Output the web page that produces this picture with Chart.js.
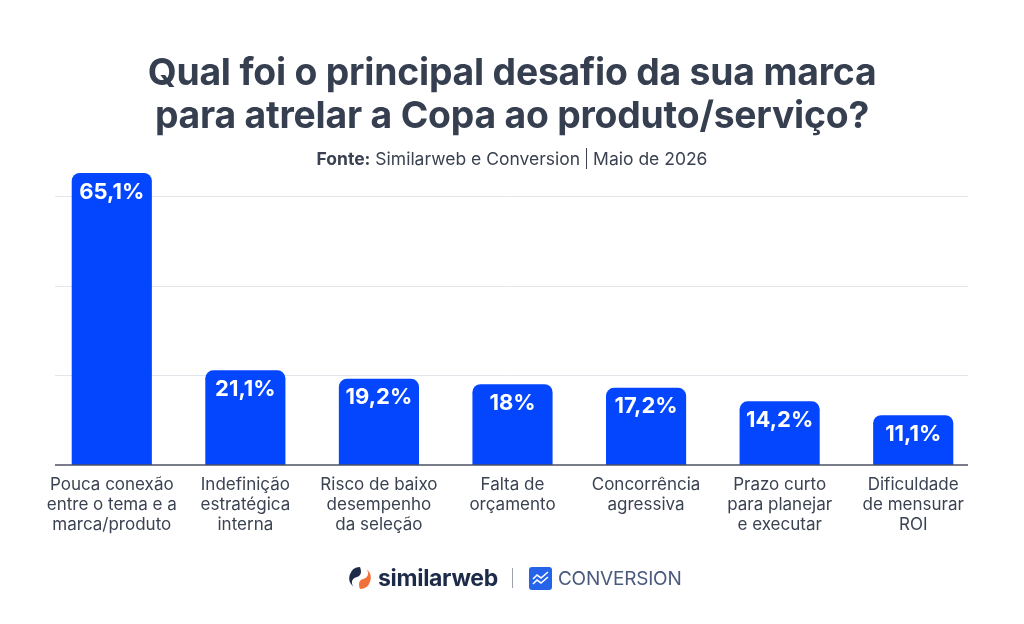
<!DOCTYPE html>
<html>
<head>
<meta charset="utf-8">
<script src="https://cdn.jsdelivr.net/npm/chart.js@4/dist/chart.umd.min.js"></script>
<style>
  html, body { margin: 0; padding: 0; background: #ffffff; }
  body { width: 1024px; height: 624px; position: relative; overflow: hidden; font-family: Inter, "Noto Sans", sans-serif; }
  #wrap { position: absolute; left: 0; top: 0; width: 1024px; height: 624px; }
  #title { position: absolute; left: 0; width: 1024px; top: 50px; text-align: center; color: #363f50; font-weight: 700; font-size: 37.3px; line-height: 43px; letter-spacing: -0.2px; }
  #sub { position: absolute; left: 0; width: 1024px; top: 148px; text-align: center; color: #3a4150; font-size: 17.5px; line-height: 20px; }
  #sub b { font-weight: 700; }
  #sub .bar { display: inline-block; width: 1px; height: 21px; background: #3a4150; vertical-align: -4px; margin: 0 6px; }
  #logos { position: absolute; top: 564px; left: 348px; height: 28px; display: flex; align-items: center; }
  .sw { font-weight: 700; font-size: 23px; color: #1d2b49; letter-spacing: -0.3px; margin-left: 6px; }
  .div { width: 1px; height: 20px; background: #9aa1ad; margin: 0 16px 0 14px; }
  .cv { font-size: 19px; color: #4a5a7c; margin-left: 6px; letter-spacing: -0.2px; }
</style>
</head>
<body>
<div id="wrap"><canvas id="c" width="1024" height="624"></canvas></div>
<div id="title">Qual foi o principal desafio da sua marca<br>para atrelar a Copa ao produto/serviço?</div>
<div id="sub"><b>Fonte:</b> Similarweb e Conversion<span class="bar"></span>Maio de 2026</div>
<div id="logos">
  <svg width="24" height="24" viewBox="0 0 24 24">
    <path d="M12 1 A11 11 0 0 0 6 21 C2 17 4 12 9 11 C13 10 14 6 12 1 Z" fill="#1d2b49"/>
    <path d="M12 23 A11 11 0 0 0 18 3 C22 7 20 12 15 13 C11 14 10 18 12 23 Z" fill="#f2713a"/>
  </svg>
  <span class="sw">similarweb</span>
  <span class="div"></span>
  <svg width="23" height="23" viewBox="0 0 23 23">
    <rect x="0" y="0" width="23" height="23" rx="3" fill="#2563eb"/>
    <path d="M4 12 L8 8 L12 11 L19 5" stroke="#fff" stroke-width="1.6" fill="none"/>
    <path d="M4 17 L8 13 L12 16 L19 10" stroke="#fff" stroke-width="1.6" fill="none"/>
  </svg>
  <span class="cv">CONVERSION</span>
</div>
<script>
const categories = [
  ["Pouca conexão", "entre o tema e a", "marca/produto"],
  ["Indefinição", "estratégica", "interna"],
  ["Risco de baixo", "desempenho", "da seleção"],
  ["Falta de", "orçamento"],
  ["Concorrência", "agressiva"],
  ["Prazo curto", "para planejar", "e executar"],
  ["Dificuldade", "de mensurar", "ROI"]
];
const values = [65.1, 21.1, 19.2, 18, 17.2, 14.2, 11.1];
const valueLabels = ["65,1%", "21,1%", "19,2%", "18%", "17,2%", "14,2%", "11,1%"];
const gridValues = [20, 40, 60];

const gridLines = {
  id: 'gridLines',
  beforeDatasetsDraw(chart) {
    const ctx = chart.ctx;
    const a = chart.chartArea;
    const y = chart.scales.y;
    const x0 = a.left + 10, x1 = a.right - 12;
    ctx.save();
    ctx.strokeStyle = '#e3e5ea';
    ctx.lineWidth = 1;
    gridValues.forEach(v => {
      const py = Math.round(y.getPixelForValue(v)) + 0.5;
      ctx.beginPath(); ctx.moveTo(x0, py); ctx.lineTo(x1, py); ctx.stroke();
    });
    ctx.restore();
  },
  afterDatasetsDraw(chart) {
    const ctx = chart.ctx;
    const a = chart.chartArea;
    const py = chart.scales.y.getPixelForValue(0);
    ctx.save();
    ctx.strokeStyle = '#4b5262';
    ctx.lineWidth = 1.5;
    ctx.beginPath(); ctx.moveTo(a.left + 10, py); ctx.lineTo(a.right - 12, py); ctx.stroke();
    ctx.restore();
  }
};

const barLabels = {
  id: 'barLabels',
  afterDatasetsDraw(chart) {
    const ctx = chart.ctx;
    const meta = chart.getDatasetMeta(0);
    ctx.save();
    ctx.fillStyle = '#ffffff';
    ctx.font = '700 22px Inter, "Noto Sans", sans-serif';
    ctx.textAlign = 'center';
    ctx.textBaseline = 'middle';
    meta.data.forEach((bar, i) => {
      ctx.fillText(valueLabels[i], bar.x, bar.y + 19);
    });
    ctx.restore();
  }
};

new Chart(document.getElementById('c'), {
  type: 'bar',
  data: {
    labels: categories,
    datasets: [{
      data: values,
      backgroundColor: '#0346fe',
      borderRadius: { topLeft: 8, topRight: 8, bottomLeft: 0, bottomRight: 0 },
      borderSkipped: 'bottom',
      barPercentage: 0.8,
      categoryPercentage: 0.75
    }]
  },
  options: {
    responsive: false,
    animation: false,
    events: [],
    layout: { padding: { left: 45, right: 44, top: 151, bottom: 79 } },
    plugins: { legend: { display: false }, tooltip: { enabled: false }, title: { display: false } },
    scales: {
      x: {
        grid: { display: false, drawTicks: false },
        border: { display: false },
        ticks: {
          color: '#3b4252',
          font: { family: 'Inter, "Noto Sans", sans-serif', size: 17, lineHeight: 1.18 },
          padding: 10,
          maxRotation: 0,
          autoSkip: false
        },
        afterFit(s) { s.height = 80; }
      },
      y: {
        min: 0, max: 70,
        ticks: { display: false, stepSize: 20 },
        border: { display: false },
        grid: { display: false, drawTicks: false },
        afterFit(s) { s.width = 0; }
      }
    }
  },
  plugins: [gridLines, barLabels]
});
</script>
</body>
</html>
